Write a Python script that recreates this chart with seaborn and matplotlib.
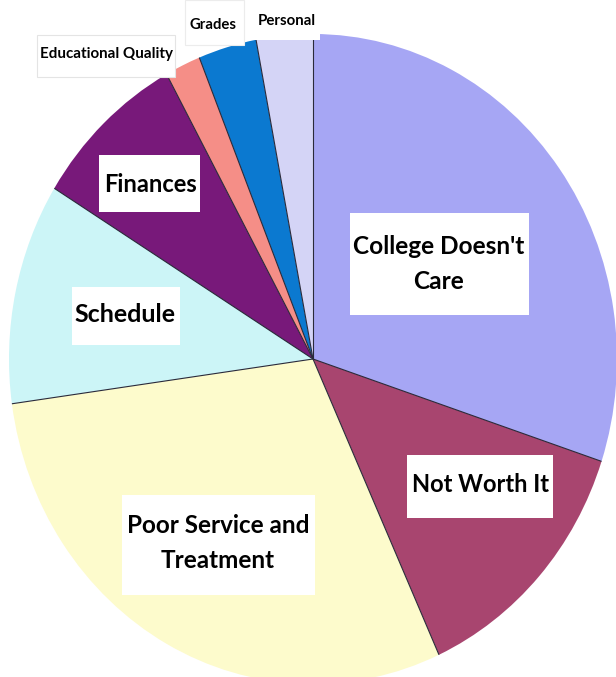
import matplotlib
matplotlib.use("Agg")
import matplotlib.pyplot as plt
from matplotlib.patches import Rectangle
import numpy as np
import seaborn as sns

# ---- data (clockwise from 12 o'clock) ----
categories = ["College Doesn't Care", "Not Worth It", "Poor Service and Treatment",
              "Schedule", "Finances", "Educational Quality", "Grades", "Personal"]
shares = [30.1, 13.1, 29.6, 11.0, 8.2, 1.9, 3.1, 3.0]
colors = ["#a6a6f4", "#a8456f", "#fdfbcc", "#ccf5f7", "#78197a", "#f58e87", "#0b79d0", "#d4d4f6"]
label_texts = ["College Doesn't\nCare", "Not Worth It", "Poor Service and\nTreatment",
               "Schedule", "Finances", "Educational Quality", "Grades", "Personal"]

sns.set_theme(style="white")
palette = sns.color_palette(colors)
plt.rcParams['font.family'] = ['Lato', 'DejaVu Sans']

W, H = 616, 677
fig = plt.figure(figsize=(W / 100, H / 100), dpi=100)
fig.patch.set_facecolor("white")
ax = fig.add_axes([0, 0, 1, 1])

# pie geometry in pixels: centre and radii (slightly elliptical, clipped on right/bottom)
cx, cy, rx, ry = 313, 359, 304, 325
wedges, _ = ax.pie(shares, colors=palette, startangle=90, counterclock=False,
                   radius=1, center=(0, 0),
                   wedgeprops=dict(edgecolor="none", linewidth=0))
# thin dark radial separators
for w in wedges:
    t = np.deg2rad(w.theta1)
    ax.plot([0, np.cos(t)], [0, np.sin(t)], color="#2a2a3a", lw=0.8, solid_capstyle="butt")
ax.set_aspect("auto")
ax.set_xlim((0 - cx) / rx, (W - cx) / rx)
ax.set_ylim((cy - H) / ry, cy / ry)
ax.axis("off")

# overlay for the label boxes, in pixel coordinates
ov = fig.add_axes([0, 0, 1, 1])
ov.set_xlim(0, W)
ov.set_ylim(H, 0)
ov.axis("off")
ov.patch.set_alpha(0)

# (box x0, y0, x1, y1), text centre, target text width (px), box edge colour
boxes = [
    ((350, 213, 529, 315), (439, 264), 172, "none"),
    ((407, 455, 553, 518), (480, 484), 137, "none"),
    ((122, 495, 315, 595), (218, 543), 182, "none"),
    ((72, 287, 180, 345), (125, 315), 101, "none"),
    ((99, 155, 200, 212), (150, 184), 93, "none"),
    ((37, 35, 175, 77), (107, 54), 132, "#e4e4e4"),
    ((185, 0, 244, 45), (213, 25), 47, "#ececec"),
    ((250, 0, 320, 40), (287, 21), 58, "none"),
]
renderer = fig.canvas.get_renderer()
for lab, (bx, tc, tw, ec) in zip(label_texts, boxes):
    x0, y0, x1, y1 = bx
    ov.add_patch(Rectangle((x0, y0), x1 - x0, y1 - y0, facecolor="white",
                           edgecolor=ec, lw=0.8, zorder=3))
    t = ov.text(tc[0], tc[1], lab, ha="center", va="center", fontsize=20,
                fontweight="bold", color="black", linespacing=1.68, zorder=4)
    wpx = t.get_window_extent(renderer).width
    t.set_fontsize(20 * tw / wpx)

fig.savefig("out.png", dpi=100, facecolor="white")
